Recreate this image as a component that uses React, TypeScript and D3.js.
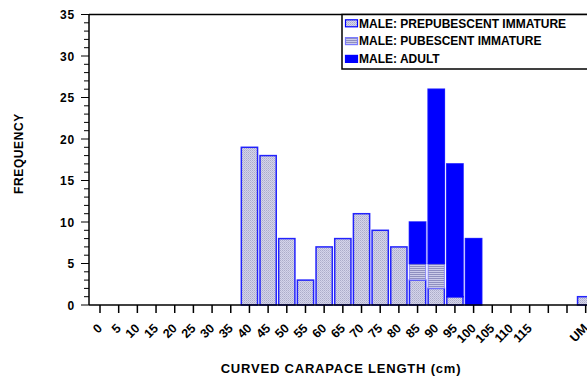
import React, { useRef, useEffect } from "react";
import * as d3 from "d3";

// Size classes (cm); two unlabeled bins before UM
const categories = [
  "0", "5", "10", "15", "20", "25", "30", "35", "40", "45", "50", "55", "60",
  "65", "70", "75", "80", "85", "90", "95", "100", "105", "110", "115", "", "", "UM",
];

const prepubescent = [0, 0, 0, 0, 0, 0, 0, 0, 19, 18, 8, 3, 7, 8, 11, 9, 7, 3, 2, 1, 0, 0, 0, 0, 0, 0, 1];
const pubescent = [0, 0, 0, 0, 0, 0, 0, 0, 0, 0, 0, 0, 0, 0, 0, 0, 0, 2, 3, 0, 0, 0, 0, 0, 0, 0, 0];
const adult = [0, 0, 0, 0, 0, 0, 0, 0, 0, 0, 0, 0, 0, 0, 0, 0, 0, 5, 21, 16, 8, 0, 0, 0, 0, 0, 0];

const seriesNames = [
  "MALE: PREPUBESCENT IMMATURE",
  "MALE: PUBESCENT IMMATURE",
  "MALE: ADULT",
];

const yTicks = [0, 5, 10, 15, 20, 25, 30, 35];

export default function App() {
  const svgRef = useRef<SVGSVGElement | null>(null);

  useEffect(() => {
    document.body.style.margin = "0";
    const width = 587;
    const height = 381;
    const font = "'Liberation Sans', Arial, sans-serif";

    const svg = d3.select(svgRef.current);
    svg.selectAll("*").remove();
    svg.attr("width", width).attr("height", height).style("font-family", font);

    // patterns for the two immature classes
    const defs = svg.append("defs");
    const dots = defs
      .append("pattern")
      .attr("id", "prepub")
      .attr("width", 2)
      .attr("height", 2)
      .attr("patternUnits", "userSpaceOnUse");
    dots.append("rect").attr("width", 2).attr("height", 2).attr("fill", "#d4d4ea");
    dots.append("rect").attr("width", 1).attr("height", 1).attr("fill", "#acacca");
    dots.append("rect").attr("x", 1).attr("y", 1).attr("width", 1).attr("height", 1).attr("fill", "#bcbcd8");

    const lines = defs
      .append("pattern")
      .attr("id", "pubesc")
      .attr("width", 2)
      .attr("height", 2)
      .attr("patternUnits", "userSpaceOnUse");
    lines.append("rect").attr("width", 2).attr("height", 2).attr("fill", "#ccccea");
    lines.append("rect").attr("width", 2).attr("height", 1).attr("fill", "#8f8fbf");

    const axisX = 89;
    const x = d3
      .scaleBand<number>()
      .domain(categories.map((_, i) => i))
      .range([90.66, 90.66 + 27 * 18.68])
      .paddingInner(0.13)
      .paddingOuter(0.065);

    const y = d3.scaleLinear().domain([0, 35]).range([305, 14.5]);

    // bars, stacked
    const stacks = [
      { values: prepubescent, fill: "url(#prepub)", stroke: "#0000ff", sw: 1.5 },
      { values: pubescent, fill: "url(#pubesc)", stroke: "#7a7aff", sw: 1 },
      { values: adult, fill: "#0000ff", stroke: "#0000ff", sw: 1.5 },
    ];
    const base = categories.map(() => 0);
    const barG = svg.append("g");
    stacks.forEach((s) => {
      categories.forEach((_, i) => {
        const v = s.values[i];
        if (!v) return;
        const y0 = base[i];
        const y1 = y0 + v;
        base[i] = y1;
        barG
          .append("rect")
          .attr("x", x(i)!)
          .attr("y", y(y1))
          .attr("width", x.bandwidth())
          .attr("height", y(y0) - y(y1))
          .attr("fill", s.fill)
          .attr("stroke", s.stroke)
          .attr("stroke-opacity", 0.85)
          .attr("stroke-width", s.sw);
      });
    });

    // frame: top line + axes
    svg.append("line")
      .attr("x1", axisX).attr("x2", width + 20)
      .attr("y1", y(35)).attr("y2", y(35))
      .attr("stroke", "#000").attr("stroke-width", 1.5);
    svg.append("line")
      .attr("x1", axisX).attr("x2", axisX)
      .attr("y1", y(35)).attr("y2", y(0))
      .attr("stroke", "#000").attr("stroke-width", 1.5);
    svg.append("line")
      .attr("x1", axisX).attr("x2", width + 20)
      .attr("y1", y(0)).attr("y2", y(0))
      .attr("stroke", "#000").attr("stroke-width", 1.5);

    // y ticks, minor every 1
    const yAxis = svg.append("g");
    d3.range(0, 36).forEach((t) => {
      const major = t % 5 === 0;
      yAxis.append("line")
        .attr("x1", axisX - (major ? 8 : 5)).attr("x2", axisX)
        .attr("y1", y(t)).attr("y2", y(t))
        .attr("stroke", "#000").attr("stroke-width", 1);
    });
    yAxis.selectAll("text")
      .data(yTicks)
      .enter()
      .append("text")
      .attr("x", 75)
      .attr("y", (d) => y(d))
      .attr("dy", "0.38em")
      .attr("text-anchor", "end")
      .attr("font-size", "12px")
      .attr("font-weight", "bold")
      .attr("letter-spacing", "0.8px")
      .text((d) => d);

    // x ticks + rotated labels
    const xAxis = svg.append("g");
    categories.forEach((c, i) => {
      const cx = x(i)! + x.bandwidth() / 2;
      xAxis.append("line")
        .attr("x1", cx).attr("x2", cx)
        .attr("y1", y(0)).attr("y2", y(0) + 8)
        .attr("stroke", "#000").attr("stroke-width", 1.5);
      if (c) {
        xAxis.append("text")
          .attr("transform", `translate(${cx + 3},${329}) rotate(-45)`)
          .attr("text-anchor", "end")
          .attr("font-size", "12.5px")
          .attr("font-weight", "bold")
          .text(c);
      }
    });

    // axis titles
    svg.append("text")
      .attr("transform", `translate(23,153.5) rotate(-90)`)
      .attr("text-anchor", "middle")
      .attr("font-size", "12px")
      .attr("font-weight", "bold")
      .attr("letter-spacing", "0.6px")
      .text("FREQUENCY");
    svg.append("text")
      .attr("x", 341)
      .attr("y", 373)
      .attr("text-anchor", "middle")
      .attr("font-size", "13px")
      .attr("font-weight", "bold")
      .attr("letter-spacing", "0.8px")
      .text("CURVED CARAPACE LENGTH (cm)");

    // legend
    const legend = svg.append("g");
    legend.append("rect")
      .attr("x", 342).attr("y", y(35))
      .attr("width", 300).attr("height", 69 - y(35))
      .attr("fill", "#fff").attr("stroke", "#000").attr("stroke-width", 1.5);
    const swFills = ["url(#prepub)", "url(#pubesc)", "#0000ff"];
    seriesNames.forEach((name, i) => {
      const cy = 23.3 + i * 17.8;
      legend.append("rect")
        .attr("x", 345.5).attr("y", cy - 3.5)
        .attr("width", 12).attr("height", 7)
        .attr("fill", swFills[i])
        .attr("stroke", i === 1 ? "#7a7aff" : "#0000ff")
        .attr("stroke-width", 1.2);
      legend.append("text")
        .attr("x", 359)
        .attr("y", cy)
        .attr("dy", "0.36em")
        .attr("font-size", "12px")
        .attr("font-weight", "bold")
        .text(name);
    });
  }, []);

  return <svg ref={svgRef} style={{ display: "block" }}></svg>;
}
